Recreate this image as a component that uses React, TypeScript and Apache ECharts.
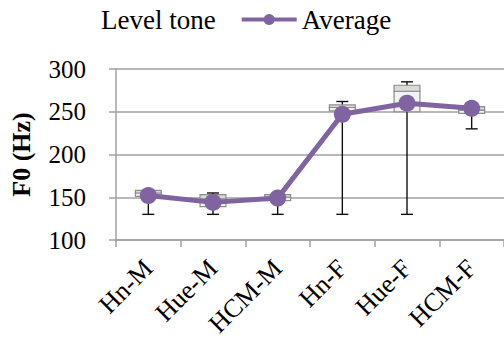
import React, { useEffect, useRef } from "react";
import * as echarts from "echarts";

// Dialect / gender groups along the x axis
const categories = ["Hn-M", "Hue-M", "HCM-M", "Hn-F", "Hue-F", "HCM-F"];

// Level-tone F0 distribution per group (Hz)
const whiskerLow = [130, 130, 130, 130, 130, 230];
const quartile1 = [151, 139, 146, 251, 250, 248];
const median = [155, 148, 150, 255, 274, 252];
const quartile3 = [158, 153, 153, 258, 281, 256];
const whiskerHigh = [157, 155, 153, 262, 285, 256];

// Mean F0 per group (Hz)
const average = [152, 144, 149, 247, 260, 254];

// Y-axis ticks
const yMin = 100;
const yMax = 300;
const yStep = 50;

const SERIF = "'Liberation Serif', 'Times New Roman', serif";
const PURPLE = "#8064A2";
const GRID_GRAY = "#a0a0a0";

export default function App() {
  const ref = useRef<HTMLDivElement>(null);

  useEffect(() => {
    if (!ref.current) return;
    const chart = echarts.init(ref.current, undefined, { renderer: "svg" });

    const boxData = categories.map((_, i) => [
      i,
      whiskerLow[i],
      quartile1[i],
      median[i],
      quartile3[i],
      whiskerHigh[i],
    ]);

    const renderBox = (params: any, api: any) => {
      const idx = api.value(0);
      const px = (v: number) => api.coord([idx, v]);
      const [x, yLow] = px(api.value(1));
      const yQ1 = px(api.value(2))[1];
      const yMed = px(api.value(3))[1];
      const yQ3 = px(api.value(4))[1];
      const yHigh = px(api.value(5))[1];
      const bw = api.size([1, 0])[0] * 0.4;
      const cap = 12;
      const lineStyle = { stroke: "#111", lineWidth: 1.4 };
      const boxStroke = "#8c8c8c";
      return {
        type: "group",
        children: [
          { type: "line", shape: { x1: x, y1: yHigh, x2: x, y2: yLow }, style: lineStyle },
          { type: "line", shape: { x1: x - cap / 2, y1: yHigh, x2: x + cap / 2, y2: yHigh }, style: lineStyle },
          { type: "line", shape: { x1: x - cap / 2, y1: yLow, x2: x + cap / 2, y2: yLow }, style: lineStyle },
          {
            type: "rect",
            shape: { x: x - bw / 2, y: yMed, width: bw, height: yQ1 - yMed },
            style: { fill: "#f2f2f2", stroke: boxStroke, lineWidth: 1.2 },
          },
          {
            type: "rect",
            shape: { x: x - bw / 2, y: yQ3, width: bw, height: yMed - yQ3 },
            style: { fill: "#d9d9d9", stroke: boxStroke, lineWidth: 1.2 },
          },
        ],
      };
    };

    chart.setOption({
      animation: false,
      backgroundColor: "#fff",
      textStyle: { fontFamily: SERIF, color: "#000" },
      legend: {
        left: 36,
        top: 1,
        itemWidth: 55,
        itemHeight: 14,
        itemGap: 24,
        textStyle: { fontFamily: SERIF, fontSize: 27, color: "#000" },
        data: [
          { name: "Level tone", itemStyle: { opacity: 0 }, lineStyle: { opacity: 0 } },
          { name: "Average", lineStyle: { width: 4, color: PURPLE } },
        ],
      },
      grid: { left: 107, right: -3, top: 69, bottom: 103 },
      xAxis: {
        type: "category",
        data: categories,
        boundaryGap: true,
        axisLine: { lineStyle: { color: GRID_GRAY, width: 1.5 } },
        axisTick: { show: true, length: 7, lineStyle: { color: GRID_GRAY, width: 1.5 } },
        axisLabel: {
          rotate: 45,
          margin: 24,
          fontFamily: SERIF,
          fontSize: 26,
          color: "#000",
        },
        splitLine: { show: false },
      },
      yAxis: {
        type: "value",
        min: yMin,
        max: yMax,
        interval: yStep,
        name: "F0 (Hz)",
        nameLocation: "middle",
        nameGap: 82,
        nameTextStyle: { fontFamily: SERIF, fontSize: 26, fontWeight: "bold", color: "#000" },
        axisLine: { show: true, lineStyle: { color: GRID_GRAY, width: 1.5 } },
        axisTick: { show: true, length: 7, lineStyle: { color: GRID_GRAY, width: 1.5 } },
        axisLabel: { margin: 30, fontFamily: SERIF, fontSize: 25, color: "#000" },
        splitLine: { show: true, lineStyle: { color: GRID_GRAY, width: 1.5 } },
      },
      series: [
        {
          name: "Level tone",
          type: "custom",
          renderItem: renderBox,
          encode: { x: 0, y: [1, 2, 3, 4, 5] },
          data: boxData,
          z: 2,
        },
        {
          name: "Average",
          type: "line",
          data: average,
          symbol: "circle",
          symbolSize: 17,
          color: PURPLE,
          lineStyle: { color: PURPLE, width: 5 },
          itemStyle: { color: PURPLE },
          z: 3,
        },
      ],
    });

    return () => chart.dispose();
  }, []);

  return (
    <div
      ref={ref}
      style={{ position: "fixed", left: 0, top: 0, width: 504, height: 343 }}
    />
  );
}
